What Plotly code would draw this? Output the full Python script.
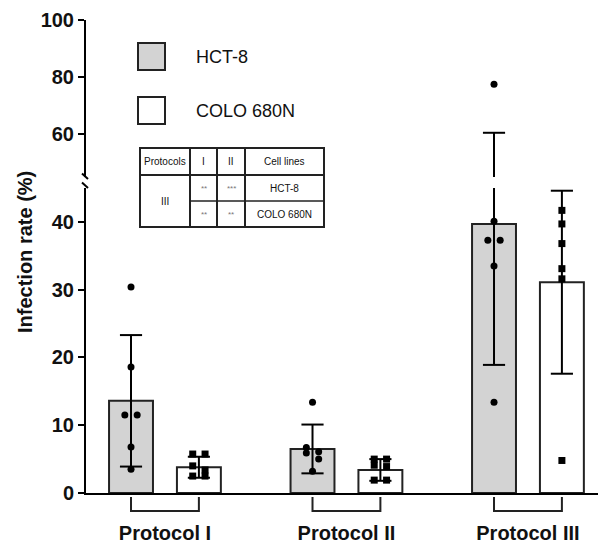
import plotly.graph_objects as go

# ---------------- data ----------------
protocols = ["Protocol I", "Protocol II", "Protocol III"]
cell_lines = ["HCT-8", "COLO 680N"]
hct8_mean = [13.6, 6.5, 39.7]
hct8_sd = [9.7, 3.6, 20.8]
colo_mean = [3.8, 3.4, 31.1]
colo_sd = [1.55, 1.6, 13.5]
hct8_points = [
    [30.4, 18.6, 11.5, 11.5, 6.8, 3.5],
    [13.4, 6.7, 6.1, 5.9, 5.0, 3.2],
    [77.5, 40.1, 37.3, 37.3, 33.5, 13.4],
]
colo_points = [
    [5.75, 5.75, 4.0, 3.4, 2.5, 2.5],
    [5.0, 5.0, 4.1, 3.9, 1.9, 1.9],
    [41.7, 39.7, 36.8, 33.1, 31.6, 4.8],
]
y_lower_ticks = [0, 10, 20, 30, 40]
y_upper_ticks = [60, 80, 100]
break_value = 45
y_max = 100
table_header = ["Protocols", "I", "II", "Cell lines"]
table_group = "III"
table_sig_I = ["**", "**"]
table_sig_II = ["***", "**"]

# ---------------- layout constants ----------------
PAGE = 8                      # default body margin of the html page
W, H = 606 - PAGE, 544 - PAGE
ML, MR, MT, MB = 86 - PAGE, 0, 20 - PAGE, 51
PW, PH = W - ML - MR, H - MT - MB
X_RANGE = [-0.435, 2.43]
OFF = 0.187          # bar offset from group centre
BW = 0.242           # bar width
CAP = 0.061          # half cap width
JIT = 0.034          # horizontal spread of coincident points
LOW_DOM = [0, 0.6448]
UP_DOM = [0.668, 1]
FONT = "Liberation Sans, Arial, sans-serif"
GRAY = "#d3d3d3"
EDGE = "#222222"


def px(x):
    """page pixel x -> paper coordinate"""
    return (x - PAGE - ML) / PW


def py(y):
    """page pixel y -> paper coordinate"""
    return (H - MB - (y - PAGE)) / PH


def spread(values, tol=1.2):
    """horizontal offsets: alternate left/right inside clusters of close values"""
    order = sorted(range(len(values)), key=lambda k: -values[k])
    offs = [0.0] * len(values)
    clusters, cur = [], [order[0]]
    for k in order[1:]:
        if abs(values[cur[-1]] - values[k]) <= tol:
            cur.append(k)
        else:
            clusters.append(cur)
            cur = [k]
    clusters.append(cur)
    for c in clusters:
        if len(c) > 1:
            for j, k in enumerate(c):
                offs[k] = -JIT if j % 2 == 0 else JIT
    return offs


fig = go.Figure()
idx = list(range(len(protocols)))
series = [
    (hct8_mean, hct8_sd, hct8_points, -OFF, GRAY, "circle"),
    (colo_mean, colo_sd, colo_points, OFF, "white", "square"),
]

# bars (on the upper segment only when they reach it)
for mean, sd, pts, off, color, sym in series:
    xs = [i + off for i in idx]
    axes = ["y"] + (["y2"] if max(mean) > break_value else [])
    for ax in axes:
        fig.add_trace(go.Bar(x=xs, y=mean, width=BW, yaxis=ax,
                             marker=dict(color=color, line=dict(color=EDGE, width=2)),
                             showlegend=False, hoverinfo="skip"))

# error bars (drawn as lines, clipped by each segment)
for mean, sd, pts, off, color, sym in series:
    ex, ey = [], []
    for i, m, s in zip(idx, mean, sd):
        xc = i + off
        lo, hi = m - s, m + s
        ex += [xc, xc, None, xc - CAP, xc + CAP, None, xc - CAP, xc + CAP, None]
        ey += [lo, hi, None, hi, hi, None, lo, lo, None]
    for ax in ["y", "y2"]:
        fig.add_trace(go.Scatter(x=ex, y=ey, yaxis=ax, mode="lines",
                                 line=dict(color="black", width=2),
                                 showlegend=False, hoverinfo="skip"))

# individual points
for mean, sd, pts, off, color, sym in series:
    lx, ly, ux, uy = [], [], [], []
    for i, vals in zip(idx, pts):
        offs = spread(vals)
        for v, o in zip(vals, offs):
            if v < break_value:
                lx.append(i + off + o); ly.append(v)
            else:
                ux.append(i + off + o); uy.append(v)
    for xs, ys, ax in [(lx, ly, "y"), (ux, uy, "y2")]:
        fig.add_trace(go.Scatter(x=xs, y=ys, yaxis=ax, mode="markers",
                                 marker=dict(symbol=sym, size=7, color="black"),
                                 showlegend=False, hoverinfo="skip"))

shapes = []
annotations = []

# brackets under each protocol
for i in idx:
    shapes.append(dict(type="path", xref="x", yref="paper",
                       path=f"M {i - OFF},{py(497)} L {i - OFF},{py(511)} L {i + OFF},{py(511)} L {i + OFF},{py(497)}",
                       line=dict(color=EDGE, width=2)))

# axis break marks
for y0 in (173.5, 182.5):
    shapes.append(dict(type="line", xref="paper", yref="paper",
                       x0=px(82), y0=py(y0), x1=px(88), y1=py(y0 + 5.5),
                       line=dict(color="black", width=2)))

# legend
for k, (name, color) in enumerate(zip(cell_lines, [GRAY, "white"])):
    top = 43 + k * 54
    shapes.append(dict(type="rect", xref="paper", yref="paper",
                       x0=px(138), x1=px(165), y0=py(top + 27), y1=py(top),
                       fillcolor=color, line=dict(color=EDGE, width=2)))
    annotations.append(dict(xref="paper", yref="paper", x=px(194), y=py(top + 14),
                            text=name, showarrow=False, xanchor="left", yanchor="middle",
                            font=dict(family=FONT, size=18, color="#111")))

# table
cols = [140, 190, 217, 245, 324]
rows = [148, 175, 201, 227]
shapes.append(dict(type="rect", xref="paper", yref="paper",
                   x0=px(cols[0]), x1=px(cols[-1]), y0=py(rows[-1]), y1=py(rows[0]),
                   line=dict(color=EDGE, width=2)))
for c in cols[1:-1]:
    shapes.append(dict(type="line", xref="paper", yref="paper",
                       x0=px(c), x1=px(c), y0=py(rows[0]), y1=py(rows[-1]),
                       line=dict(color=EDGE, width=2)))
shapes.append(dict(type="line", xref="paper", yref="paper",
                   x0=px(cols[0]), x1=px(cols[-1]), y0=py(rows[1]), y1=py(rows[1]),
                   line=dict(color=EDGE, width=2)))
shapes.append(dict(type="line", xref="paper", yref="paper",
                   x0=px(cols[1]), x1=px(cols[-1]), y0=py(rows[2]), y1=py(rows[2]),
                   line=dict(color=EDGE, width=1.5)))


def cell_text(text, c, r0, r1, color="#111", size=10):
    annotations.append(dict(xref="paper", yref="paper",
                            x=px((cols[c] + cols[c + 1]) / 2), y=py((rows[r0] + rows[r1]) / 2),
                            text=text, showarrow=False, xanchor="center", yanchor="middle",
                            font=dict(family=FONT, size=size, color=color)))


for c, t in enumerate(table_header):
    cell_text(t, c, 0, 1)
cell_text(table_group, 0, 1, 3)
for r in range(2):
    cell_text(table_sig_I[r], 1, r + 1, r + 2, color="#777", size=8)
    cell_text(table_sig_II[r], 2, r + 1, r + 2, color="#777", size=8)
    cell_text(cell_lines[r], 3, r + 1, r + 2)

# y-axis title
annotations.append(dict(xref="paper", yref="paper", x=px(25), y=py(252),
                        text="<b>Infection rate (%)</b>", textangle=-90, showarrow=False,
                        xanchor="center", yanchor="middle",
                        font=dict(family=FONT, size=20, color="#111")))

axis_common = dict(showline=True, linecolor="black", linewidth=2, ticks="outside",
                   ticklen=6, tickwidth=2, tickcolor="black", showgrid=False, zeroline=False,
                   tickfont=dict(family=FONT, size=20, color="#111", weight="bold"),
                   anchor="x", fixedrange=True, automargin=False)

fig.update_layout(
    width=W, height=H,
    margin=dict(l=ML, r=MR, t=MT, b=MB, pad=0, autoexpand=False),
    paper_bgcolor="white", plot_bgcolor="white",
    barmode="overlay",
    showlegend=False,
    xaxis=dict(range=X_RANGE, tickvals=idx, ticktext=protocols, showline=True,
               linecolor="black", linewidth=2, ticks="", showgrid=False, zeroline=False,
               tickfont=dict(family=FONT, size=20, color="#111", weight="bold"),
               ticklabelstandoff=21, anchor="y", fixedrange=True, automargin=False),
    yaxis=dict(domain=LOW_DOM, range=[0, break_value], tickvals=y_lower_ticks, **axis_common),
    yaxis2=dict(domain=UP_DOM, range=[break_value, y_max], tickvals=y_upper_ticks, **axis_common),
    shapes=shapes,
    annotations=annotations,
)

fig.write_html("out.html")
